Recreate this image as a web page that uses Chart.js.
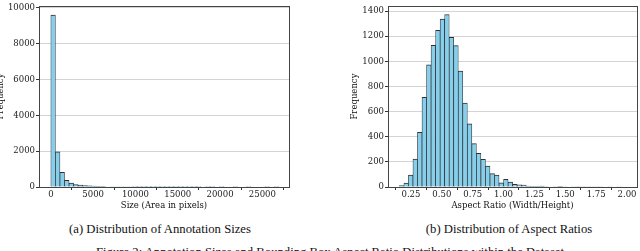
<!DOCTYPE html>
<html>
<head>
<meta charset="utf-8">
<script src="https://cdn.jsdelivr.net/npm/chart.js@4.4.1/dist/chart.umd.min.js"></script>
<style>
    body { margin: 0; width: 640px; height: 251px; overflow: hidden; background: #fff; position: relative; }
    canvas { position: absolute; top: 0; }
    #size-chart { left: -20px; }
    #ratio-chart { left: 320px; }
    .caption {
        position: absolute;
        font-family: "Liberation Serif", serif;
        font-size: 12.7px;
        line-height: 1;
        color: #111;
        white-space: nowrap;
        transform: translateX(-50%);
    }
</style>
</head>
<body>
<canvas id="size-chart" width="320" height="211"></canvas>
<canvas id="ratio-chart" width="320" height="211"></canvas>
<div class="caption" style="left:160px;top:223px">(a) Distribution of Annotation Sizes</div>
<div class="caption" style="left:509px;top:223px">(b) Distribution of Aspect Ratios</div>
<div class="caption" style="left:330px;top:246px">Figure 2: Annotation Sizes and Bounding Box Aspect Ratio Distributions within the Dataset</div>
<script>
// (a) annotation sizes, 50 bins
const sizeBinStart = 0;
const sizeBinWidth = 538;
const sizeCounts = [9600, 1960, 825, 370, 215, 140, 105, 85, 62, 50,
    40, 32, 25, 18, 13, 10, 8, 7, 6, 5,
    4, 4, 3, 3, 2, 2, 2, 2, 1, 1,
    1, 1, 1, 0, 1, 1, 0, 1, 0, 0,
    1, 0, 0, 1, 0, 0, 0, 1, 0, 1];
const sizeXTicks = [0, 5000, 10000, 15000, 20000, 25000];
const sizeYTicks = [0, 2000, 4000, 6000, 8000, 10000];

// (b) aspect ratios, 50 bins
const ratioBinStart = 0.156;
const ratioBinWidth = 0.0367;
const ratioCounts = [12, 32, 94, 222, 436, 714, 972, 1128, 1248, 1337,
    1373, 1192, 1125, 922, 669, 502, 345, 268, 220, 166,
    106, 94, 34, 61, 40, 22, 18, 16, 8, 6,
    5, 7, 4, 3, 2, 5, 2, 3, 2, 4,
    2, 1, 2, 1, 1, 0, 1, 0, 1, 3];
const ratioXTicks = [0.25, 0.5, 0.75, 1, 1.25, 1.5, 1.75, 2];
const ratioYTicks = [0, 200, 400, 600, 800, 1000, 1200, 1400];

Chart.defaults.font.family = "'DejaVu Serif', serif";
Chart.defaults.font.size = 8.5;
Chart.defaults.color = '#222';

// box around the plot area, like matplotlib spines
const frame = {
    id: 'frame',
    afterDraw(chart) {
        const { ctx, chartArea: a } = chart;
        const px = v => Math.round(v - 0.5) + 0.5;
        ctx.save();
        ctx.strokeStyle = '#444';
        ctx.lineWidth = 1;
        ctx.strokeRect(px(a.left), px(a.top), px(a.right) - px(a.left), px(a.bottom) - px(a.top));
        ctx.restore();
    }
};

function histogram(canvas, o) {
    const points = o.counts.map((c, i) => ({ x: o.start + (i + 0.5) * o.width, y: c }));
    return new Chart(canvas, {
        type: 'bar',
        data: {
            datasets: [{
                data: points,
                backgroundColor: '#87ceeb',
                borderColor: 'rgba(25,25,25,0.9)',
                borderWidth: { top: 1, left: 0.7, right: 0.7, bottom: 0 },
                barPercentage: 1,
                categoryPercentage: 1
            }]
        },
        options: {
            responsive: false,
            animation: false,
            layout: { padding: o.padding },
            plugins: { legend: { display: false }, tooltip: { enabled: false } },
            scales: {
                x: {
                    type: 'linear',
                    min: o.xMin,
                    max: o.xMax,
                    offset: false,
                    afterBuildTicks: axis => { axis.ticks = o.xTicks.map(value => ({ value })); },
                    afterFit: axis => { axis.height = 24; },
                    grid: { drawOnChartArea: false, tickLength: 3, tickColor: '#333' },
                    border: { display: false },
                    ticks: { autoSkip: false, maxRotation: 0, padding: 0, callback: o.xLabel },
                    title: { display: true, text: o.xTitle, padding: 0, color: '#111' }
                },
                y: {
                    min: 0,
                    max: o.yMax,
                    z: 1,
                    afterBuildTicks: axis => { axis.ticks = o.yTicks.map(value => ({ value })); },
                    afterFit: axis => { axis.width = o.yWidth; },
                    grid: { color: 'rgba(160,160,160,0.45)', tickLength: 3, tickColor: '#333' },
                    border: { display: false },
                    ticks: { autoSkip: false, padding: 1, callback: v => String(v) },
                    title: { display: true, text: 'Frequency', padding: 0, color: '#111' }
                }
            }
        },
        plugins: [frame]
    });
}

document.addEventListener("DOMContentLoaded", () => {
    histogram(document.getElementById("size-chart"), {
        counts: sizeCounts,
        start: sizeBinStart,
        width: sizeBinWidth,
        xMin: -1400,
        xMax: 28150,
        xTicks: sizeXTicks,
        yTicks: sizeYTicks,
        yMax: 10100,
        yWidth: 43,
        xLabel: v => String(v),
        xTitle: 'Size (Area in pixels)',
        padding: { left: 16, top: 2, right: 11, bottom: 0 }
    });

    histogram(document.getElementById("ratio-chart"), {
        counts: ratioCounts,
        start: ratioBinStart,
        width: ratioBinWidth,
        xMin: 0.064,
        xMax: 2.081,
        xTicks: ratioXTicks,
        yTicks: ratioYTicks,
        yMax: 1440,
        yWidth: 38,
        xLabel: v => v.toFixed(2),
        xTitle: 'Aspect Ratio (Width/Height)',
        padding: { left: 30, top: 2, right: 3, bottom: 0 }
    });
});
</script>
</body>
</html>
